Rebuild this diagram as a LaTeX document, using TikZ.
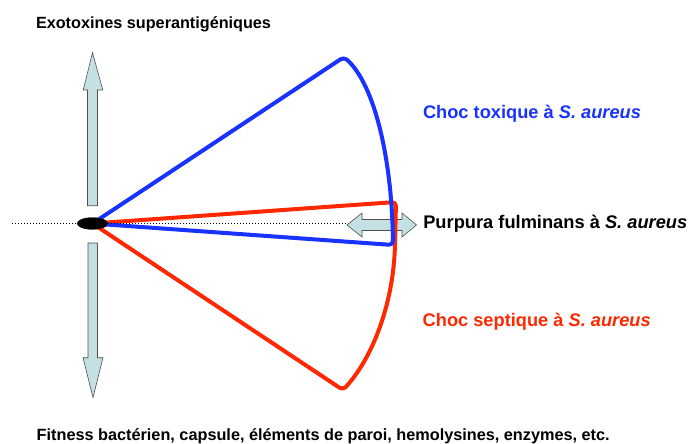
\documentclass[tikz,border=0pt]{standalone}
\usepackage{fontspec}
\setmainfont{Liberation Sans}
\usepackage{graphicx}
\usetikzlibrary{shapes.geometric}
\definecolor{cblue}{RGB}{25,50,255}
\definecolor{cred}{RGB}{255,40,0}
\definecolor{afill}{RGB}{197,224,227}
\definecolor{aedge}{RGB}{80,80,80}
\newcommand{\fitw}[2]{\resizebox{#1}{!}{\fontsize{16}{18}\selectfont\bfseries #2}}
\begin{document}
\begin{tikzpicture}[x=1pt,y=-1pt,
  lbl/.style={anchor=base west,inner sep=0pt,outer sep=0pt},
  fatarrow/.style={fill=afill,draw=aedge,line width=0.6pt,line join=miter},
  bline/.style={draw=cblue,line width=4pt,rounded corners=4pt,line join=round},
  rline/.style={draw=cred,line width=4pt,rounded corners=4pt,line join=round}]
\useasboundingbox (0,0) rectangle (691,444);
\fill[white] (0,0) rectangle (691,444);

% coordinates
\coordinate (dotL) at (12,223.5);
\coordinate (btop) at (344,57);
\coordinate (bbot) at (393,245);
\coordinate (rtop) at (396,202);
\coordinate (rbot) at (343,390);
\coordinate (rmid) at (395,245);

% vertical arrows
\draw[fatarrow] (87.5,205.7) -- (87.5,90) -- (83.2,90) -- (92.5,52.7) -- (102.8,90) -- (97.5,90) -- (97.5,205.7) -- cycle;
\draw[fatarrow] (88,243) -- (88,357.7) -- (83,357.7) -- (93,397.5) -- (103,357.7) -- (97.5,357.7) -- (97.5,243) -- cycle;

% horizontal double arrow
\draw[fatarrow] (347,225) -- (362,213) -- (362,219.5) -- (402,219.5) -- (402,213) -- (416.5,225)
  -- (402,237) -- (402,230.5) -- (362,230.5) -- (362,237) -- cycle;
\coordinate (dotR) at (347,223.5);

% source ellipse
\node[ellipse,fill=black,minimum width=31pt,minimum height=12pt,inner sep=0pt] (src) at (92.5,223.5) {};

% red shape
\draw[rline] (src.center) -- (rtop) -- (rmid) .. controls (393,300) and (375,355) .. (rbot) -- (src.center);
% blue shape
\draw[bline] (src.center) -- (btop) .. controls (375,85) and (392,160) .. (bbot) -- (src.center);

% dotted axis
\draw[black,line width=1pt,dotted] (dotL) -- (dotR);
\fill[black] (src.center) ellipse [x radius=15.5, y radius=6];

% texts
\node[lbl] (t1) at (36,28.3) {\fitw{235pt}{Exotoxines superantigéniques}};
\node[lbl,text=cblue] (t2) at (423,118.3) {\fitw{218pt}{Choc toxique à \textit{S. aureus}}};
\node[lbl] (t3) at (423.3,228.3) {\fitw{264pt}{Purpura fulminans à \textit{S. aureus}}};
\node[lbl,text=cred] (t4) at (422.7,326) {\fitw{228pt}{Choc septique à \textit{S. aureus}}};
\node[lbl] (t5) at (36.7,440.7) {\fitw{573pt}{Fitness bactérien, capsule, éléments de paroi, hemolysines, enzymes, etc.}};
\end{tikzpicture}
\end{document}
